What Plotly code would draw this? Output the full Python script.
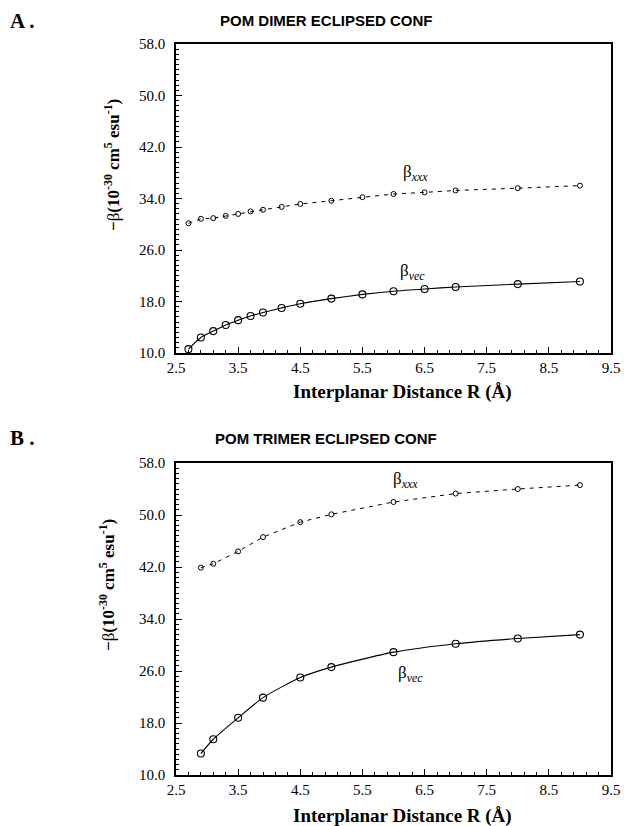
import plotly.graph_objects as go

# Panel A: POM dimer
r_a = [2.7, 2.9, 3.1, 3.3, 3.5, 3.7, 3.9, 4.2, 4.5, 5.0, 5.5, 6.0, 6.5, 7.0, 8.0, 9.0]
bxxx_a = [30.15, 30.85, 30.95, 31.3, 31.6, 32.0, 32.25, 32.7, 33.15, 33.65, 34.2, 34.7, 34.95, 35.25, 35.6, 36.0]
bvec_a = [10.6, 12.4, 13.4, 14.35, 15.1, 15.75, 16.3, 17.0, 17.65, 18.45, 19.1, 19.6, 19.95, 20.25, 20.7, 21.1]

# Panel B: POM trimer
r_b = [2.9, 3.1, 3.5, 3.9, 4.5, 5.0, 6.0, 7.0, 8.0, 9.0]
bxxx_b = [41.9, 42.5, 44.4, 46.6, 48.9, 50.1, 52.0, 53.3, 54.0, 54.6]
bvec_b = [13.3, 15.5, 18.8, 21.9, 25.0, 26.6, 28.9, 30.2, 31.0, 31.6]

y_ticks = [10.0, 18.0, 26.0, 34.0, 42.0, 50.0, 58.0]
x_ticks = [2.5, 3.5, 4.5, 5.5, 6.5, 7.5, 8.5, 9.5]

SERIF = "Liberation Serif, Times New Roman, serif"
SANS = "Liberation Sans, Arial, sans-serif"

W, H = 641, 826
ML, MR, MT, MB = 176, 30, 44, 51
PW, PH = W - ML - MR, H - MT - MB


def px(xp):
    return (xp - ML) / PW


def py(yp):
    return (H - MB - yp) / PH


fig = go.Figure()


def add_panel(r, bxxx, bvec, xa, ya):
    fig.add_trace(go.Scatter(
        x=r, y=bxxx, mode="lines+markers", xaxis=xa, yaxis=ya,
        line=dict(color="black", width=1, dash="4px,5px"),
        marker=dict(symbol="circle-open", size=5, color="black", line=dict(width=1)),
        showlegend=False, hoverinfo="skip"))
    fig.add_trace(go.Scatter(
        x=r, y=bvec, mode="lines+markers", xaxis=xa, yaxis=ya,
        line=dict(color="black", width=1.1, shape="spline", smoothing=0.6),
        marker=dict(symbol="circle-open", size=7, color="black", line=dict(width=1.1)),
        showlegend=False, hoverinfo="skip"))


add_panel(r_a, bxxx_a, bvec_a, "x", "y")
add_panel(r_b, bxxx_b, bvec_b, "x2", "y2")

axis_common = dict(
    showline=True, linecolor="black", linewidth=1.5, mirror=True,
    ticks="inside", ticklen=6, tickwidth=1.2, tickcolor="black",
    showgrid=False, zeroline=False,
    tickfont=dict(family=SERIF, size=15, color="black"),
)
xcommon = dict(axis_common, range=[2.5, 9.5], tickvals=x_ticks, tickformat=".1f",
               minor=dict(ticks="inside", ticklen=3, tickwidth=1, tickcolor="black", dtick=0.2, tick0=2.5, showgrid=False),
               ticklabelstandoff=0)
ycommon = dict(axis_common, range=[10, 58], tickvals=y_ticks, tickformat=".1f",
               minor=dict(ticks="inside", ticklen=3, tickwidth=1, tickcolor="black", dtick=0.8, tick0=10, showgrid=False),
               ticklabelstandoff=6)

fig.update_layout(
    width=W, height=H,
    margin=dict(l=ML, r=MR, t=MT, b=MB),
    paper_bgcolor="white", plot_bgcolor="white",
    xaxis=dict(xcommon, domain=[0, 1], anchor="y"),
    yaxis=dict(ycommon, domain=[py(353), 1], anchor="x"),
    xaxis2=dict(xcommon, domain=[0, 1], anchor="y2"),
    yaxis2=dict(ycommon, domain=[0, py(463)], anchor="x2"),
)

ann = []
# panel letters and titles
for letter, title, yp in [("A .", "POM DIMER ECLIPSED CONF", 21), ("B .", "POM TRIMER ECLIPSED CONF", 438)]:
    ann.append(dict(text=f"<b>{letter}</b>", x=px(8), y=py(yp), xref="paper", yref="paper",
                    xanchor="left", yanchor="middle", showarrow=False,
                    font=dict(family=SERIF, size=21, color="black")))
    ann.append(dict(text=f"<b>{title}</b>", x=px(326), y=py(yp), xref="paper", yref="paper",
                    xanchor="center", yanchor="middle", showarrow=False,
                    font=dict(family=SANS, size=15, color="black")))

ytitle = "<b>−</b>β<b>(10<sup>-30</sup> cm<sup>5</sup> esu<sup>-1</sup>)</b>"
for xp, yp in [(112, 165), (107, 585)]:
    ann.append(dict(text=ytitle, x=px(xp), y=py(yp), xref="paper", yref="paper",
                    xanchor="center", yanchor="middle", textangle=-90, showarrow=False,
                    font=dict(family=SERIF, size=17, color="black")))

for yp in [392, 816]:
    ann.append(dict(text="<b>Interplanar Distance R (Å)</b>", x=px(402), y=py(yp), xref="paper", yref="paper",
                    xanchor="center", yanchor="middle", showarrow=False,
                    font=dict(family=SERIF, size=19, color="black")))

# curve labels (data coordinates)
lab_xxx = "β<sub><i>xxx</i></sub>"
lab_vec = "β<sub><i>vec</i></sub>"
for txt, xv, yv, xr, yr in [(lab_xxx, 6.36, 38.0, "x", "y"), (lab_vec, 6.3, 22.6, "x", "y"),
                            (lab_xxx, 6.19, 55.4, "x2", "y2"), (lab_vec, 6.27, 25.5, "x2", "y2")]:
    ann.append(dict(text=txt, x=xv, y=yv, xref=xr, yref=yr, showarrow=False,
                    xanchor="center", yanchor="middle",
                    font=dict(family=SERIF, size=17, color="black")))

fig.update_layout(annotations=ann)
fig.write_html("out.html", config={"displayModeBar": False},
               post_script="document.body.style.margin='0';document.body.style.padding='0';")
